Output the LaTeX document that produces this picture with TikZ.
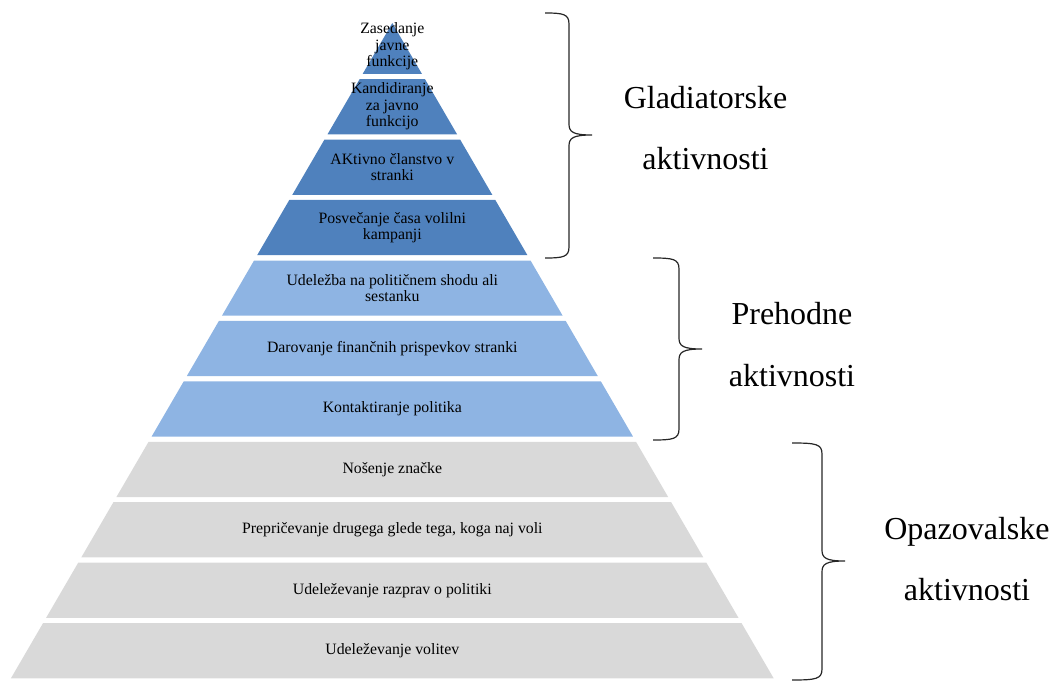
\documentclass[tikz,border=0pt]{standalone}
\usepackage{fontspec}
\setmainfont{Liberation Serif}
\definecolor{gladblue}{HTML}{4F81BD}
\definecolor{prehblue}{HTML}{8EB4E3}
\definecolor{opazgray}{HTML}{D9D9D9}
\tikzset{
	lvl/.style={align=center, inner sep=0pt, font=\fontsize{15.8}{16.5}\selectfont},
	grp/.style={anchor=base, inner sep=0pt, font=\fontsize{32}{38}\selectfont},
	brc/.style={draw=black!85, line width=1.2pt}
}
\begin{document}
\begin{tikzpicture}[x=1pt, y=-1pt]
			\useasboundingbox (0,0) rectangle (1053,682);
			\def\cx{392.3}
			\def\m{0.582}
			
			%Gladiatorske
			\def\y{73.9}
			\fill[gladblue] (\cx,23) -- ({\cx+\m*(\y-23)},\y) -- ({\cx-\m*(\y-23)},\y) -- cycle;
			\node[lvl] (L0) at (\cx,{\y-27.6}) {Zasedanje\\javne\\funkcije};
			
			\def\y{134.3}
			\fill[gladblue] ({\cx-\m*(\y-78.2)},{\y-55.2}) -- ({\cx+\m*(\y-78.2)},{\y-55.2}) -- ({\cx+\m*(\y-23)},\y) -- ({\cx-\m*(\y-23)},\y) -- cycle;
			\node[lvl] (L1) at (\cx,{\y-27.6}) {Kandidiranje\\za javno\\funkcijo};
			
			\def\y{194.8}
			\fill[gladblue] ({\cx-\m*(\y-78.2)},{\y-55.2}) -- ({\cx+\m*(\y-78.2)},{\y-55.2}) -- ({\cx+\m*(\y-23)},\y) -- ({\cx-\m*(\y-23)},\y) -- cycle;
			\node[lvl] (L2) at (\cx,{\y-27.6}) {AKtivno članstvo v\\stranki};
			
			\def\y{255.2}
			\fill[gladblue] ({\cx-\m*(\y-78.2)},{\y-55.2}) -- ({\cx+\m*(\y-78.2)},{\y-55.2}) -- ({\cx+\m*(\y-23)},\y) -- ({\cx-\m*(\y-23)},\y) -- cycle;
			\node[lvl] (L3) at (\cx,{\y-27.6}) {Posvečanje časa volilni\\kampanji};
			
			%Prehodne
			\def\y{315.7}
			\fill[prehblue] ({\cx-\m*(\y-78.2)},{\y-55.2}) -- ({\cx+\m*(\y-78.2)},{\y-55.2}) -- ({\cx+\m*(\y-23)},\y) -- ({\cx-\m*(\y-23)},\y) -- cycle;
			\node[lvl] (L4) at (\cx,{\y-27.6}) {Udeležba na političnem shodu ali\\sestanku};
			
			\def\y{376.1}
			\fill[prehblue] ({\cx-\m*(\y-78.2)},{\y-55.2}) -- ({\cx+\m*(\y-78.2)},{\y-55.2}) -- ({\cx+\m*(\y-23)},\y) -- ({\cx-\m*(\y-23)},\y) -- cycle;
			\node[lvl] (L5) at (\cx,{\y-27.6}) {Darovanje finančnih prispevkov stranki};
			
			\def\y{436.5}
			\fill[prehblue] ({\cx-\m*(\y-78.2)},{\y-55.2}) -- ({\cx+\m*(\y-78.2)},{\y-55.2}) -- ({\cx+\m*(\y-23)},\y) -- ({\cx-\m*(\y-23)},\y) -- cycle;
			\node[lvl] (L6) at (\cx,{\y-27.6}) {Kontaktiranje politika};
			
			%Opazovalske
			\def\y{497.0}
			\fill[opazgray] ({\cx-\m*(\y-78.2)},{\y-55.2}) -- ({\cx+\m*(\y-78.2)},{\y-55.2}) -- ({\cx+\m*(\y-23)},\y) -- ({\cx-\m*(\y-23)},\y) -- cycle;
			\node[lvl] (L7) at (\cx,{\y-27.6}) {Nošenje značke};
			
			\def\y{557.4}
			\fill[opazgray] ({\cx-\m*(\y-78.2)},{\y-55.2}) -- ({\cx+\m*(\y-78.2)},{\y-55.2}) -- ({\cx+\m*(\y-23)},\y) -- ({\cx-\m*(\y-23)},\y) -- cycle;
			\node[lvl] (L8) at (\cx,{\y-27.6}) {Prepričevanje drugega glede tega, koga naj voli};
			
			\def\y{617.9}
			\fill[opazgray] ({\cx-\m*(\y-78.2)},{\y-55.2}) -- ({\cx+\m*(\y-78.2)},{\y-55.2}) -- ({\cx+\m*(\y-23)},\y) -- ({\cx-\m*(\y-23)},\y) -- cycle;
			\node[lvl] (L9) at (\cx,{\y-27.6}) {Udeleževanje razprav o politiki};
			
			\def\y{678.3}
			\fill[opazgray] ({\cx-\m*(\y-78.2)},{\y-55.2}) -- ({\cx+\m*(\y-78.2)},{\y-55.2}) -- ({\cx+\m*(\y-23)},\y) -- ({\cx-\m*(\y-23)},\y) -- cycle;
			\node[lvl] (L10) at (\cx,{\y-27.6}) {Udeleževanje volitev};
			
			%Braces
			\draw[brc] (545,13) .. controls (563,13) and (569,14) .. (569,24) -- (569,124) .. controls (569,132) and (573,135) .. (592,135) .. controls (573,135) and (569,138) .. (569,146) -- (569,247) .. controls (569,257) and (563,258) .. (545,258);
			\draw[brc] (653,258) .. controls (673,258) and (679,259) .. (679,269) -- (679,338) .. controls (679,346) and (683,349) .. (702,349) .. controls (683,349) and (679,352) .. (679,360) -- (679,429) .. controls (679,439) and (673,440) .. (653,440);
			\draw[brc] (792,443) .. controls (816,443) and (822,444) .. (822,454) -- (822,550) .. controls (822,558) and (826,561) .. (845,561) .. controls (826,561) and (822,564) .. (822,572) -- (822,669) .. controls (822,679) and (816,680) .. (792,680);
			
			%Group labels
			\node[grp] (G1) at (705.5,109) {Gladiatorske};
			\node[grp] (G2) at (705.5,170) {aktivnosti};
			\node[grp] (P1) at (792,324) {Prehodne};
			\node[grp] (P2) at (792,386) {aktivnosti};
			\node[grp] (O1) at (967,539) {Opazovalske};
			\node[grp] (O2) at (967,600) {aktivnosti};
		\end{tikzpicture}
\end{document}
